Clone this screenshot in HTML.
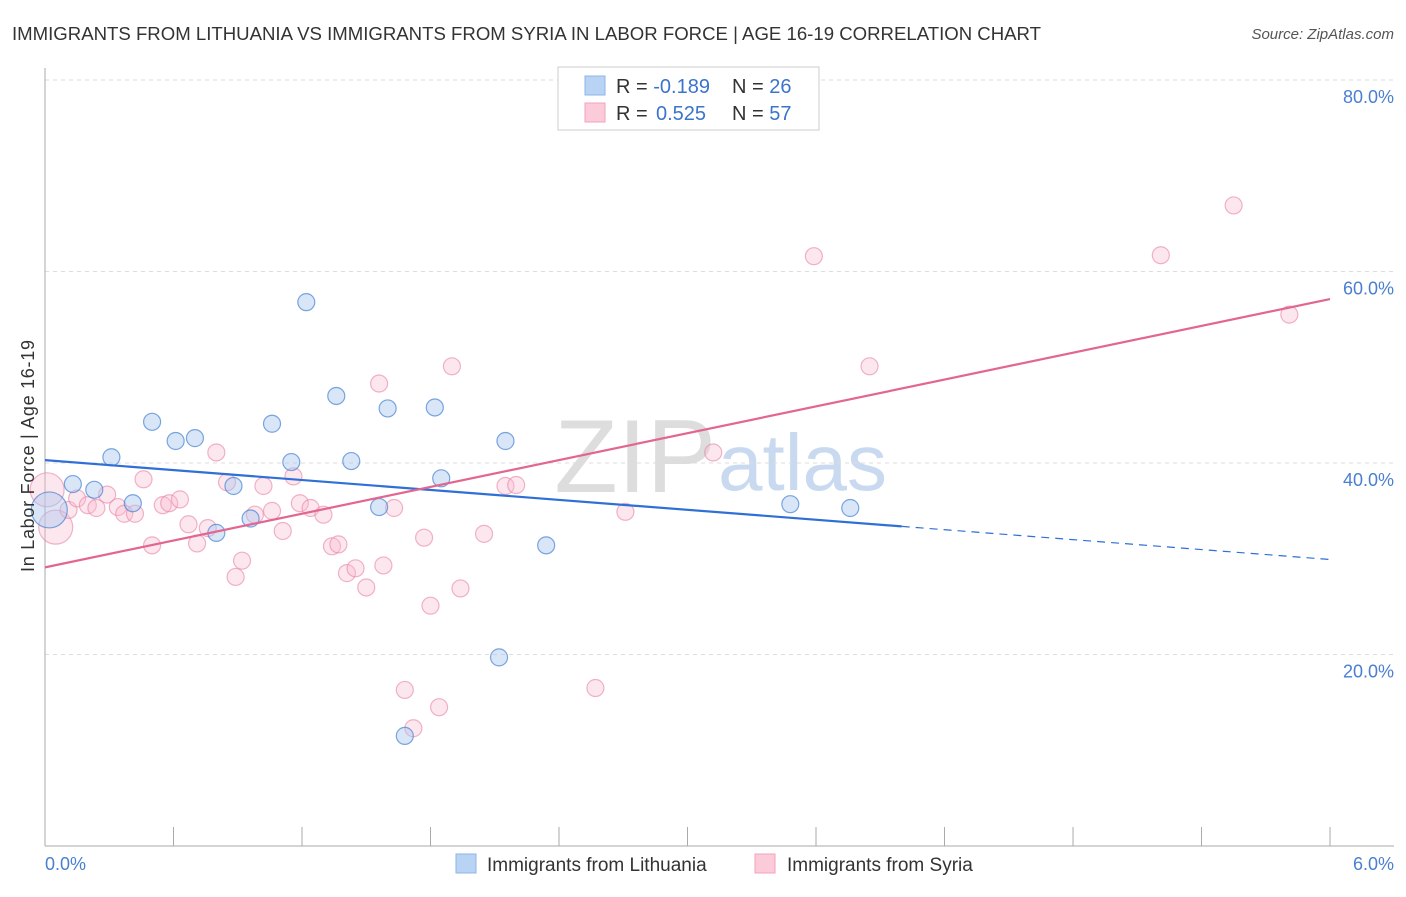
<!DOCTYPE html>
<html><head><meta charset="utf-8"><style>
body{margin:0;background:#fff;font-family:"Liberation Sans",sans-serif;}
svg text{font-family:"Liberation Sans",sans-serif;}
</style></head><body>
<svg id="chart" width="1406" height="892">
<text x="12" y="40" font-size="18" fill="#333" textLength="1029" lengthAdjust="spacingAndGlyphs">IMMIGRANTS FROM LITHUANIA VS IMMIGRANTS FROM SYRIA IN LABOR FORCE | AGE 16-19 CORRELATION CHART</text>
<text x="1394" y="39" font-size="15" fill="#555" font-style="italic" text-anchor="end">Source: ZipAtlas.com</text>
<text x="716" y="492" font-size="104" fill="#ddd" text-anchor="end" font-family="Liberation Serif">ZIP</text>
<text x="718" y="490" font-size="80" fill="#c9daf0">atlas</text>
<g id="grid"></g>
<g id="marks"></g>
<text transform="translate(34,456) rotate(-90)" font-size="18" fill="#333" text-anchor="middle" textLength="232">In Labor Force | Age 16-19</text>
<text x="45" y="870" font-size="18" fill="#4a7fd0">0.0%</text>
<text x="1394" y="870" font-size="18" fill="#4a7fd0" text-anchor="end">6.0%</text>
<g>
<rect x="558" y="67" width="261" height="63" fill="#fff" stroke="#ccc"/>
<rect x="585" y="76" width="20" height="19" fill="#b9d3f5" stroke="#8fb5e8"/>
<rect x="585" y="103" width="20" height="19" fill="#fbcbd9" stroke="#f2a3bb"/>
<text x="616" y="93" font-size="20" fill="#333">R = <tspan fill="#3b74cc">-0.189</tspan><tspan x="732">N = </tspan><tspan fill="#3b74cc">26</tspan></text>
<text x="616" y="120" font-size="20" fill="#333">R = <tspan x="656" fill="#3b74cc">0.525</tspan><tspan x="732">N = </tspan><tspan fill="#3b74cc">57</tspan></text>
</g>
<g>
<rect x="456" y="854" width="20" height="19" fill="#b9d3f5" stroke="#8fb5e8"/>
<text x="487" y="871" font-size="19" fill="#333">Immigrants from Lithuania</text>
<rect x="755" y="854" width="20" height="19" fill="#fbcbd9" stroke="#f2a3bb"/>
<text x="787" y="871" font-size="19" fill="#333">Immigrants from Syria</text>
</g>
</svg>
<script>
const yTicks=[20,40,60,80];
const xTicks=[0,0.6,1.2,1.8,2.4,3.0,3.6,4.2,4.8,5.4,6.0];
const blueX=[0.02,0.13,0.23,0.31,0.41,0.50,0.61,0.70,0.80,0.88,0.96,1.06,1.15,1.22,1.36,1.43,1.56,1.60,1.82,1.85,2.12,2.15,2.34,1.68,3.48,3.76];
const blueY=[35.1,37.8,37.2,40.6,35.8,44.3,42.3,42.6,32.7,37.6,34.2,44.1,40.1,56.8,47.0,40.2,35.4,45.7,45.8,38.4,19.7,42.3,31.4,11.5,35.7,35.3];
const pinkX=[0.01,0.05,0.11,0.15,0.20,0.24,0.29,0.34,0.37,0.42,0.46,0.50,0.55,0.58,0.63,0.67,0.71,0.76,0.80,0.85,0.89,0.92,0.98,1.02,1.06,1.11,1.16,1.19,1.24,1.30,1.34,1.37,1.41,1.45,1.50,1.56,1.58,1.63,1.68,1.72,1.77,1.80,1.84,1.90,1.94,2.05,2.15,2.20,2.57,2.71,2.82,3.12,3.59,3.85,5.21,5.55,5.81];
const pinkY=[37.2,33.3,35.1,36.3,35.6,35.3,36.7,35.4,34.7,34.7,38.3,31.4,35.6,35.8,36.2,33.6,31.6,33.2,41.1,38.0,28.1,29.8,34.6,37.6,35.0,32.9,38.6,35.8,35.3,34.6,31.3,31.5,28.5,29.0,27.0,48.3,29.3,35.3,16.3,12.3,32.2,25.1,14.5,50.1,26.9,32.6,37.6,37.7,16.5,34.9,76.3,41.1,61.6,50.1,61.7,66.9,55.5];
const blueTrend=[40.3,-1.73,4.0];
const pinkTrend=[29.1,4.67];
const X=v=>45+v*214.17, Y=v=>846-v*9.575;
const NS='http://www.w3.org/2000/svg';
const grid=document.getElementById('grid'), marks=document.getElementById('marks');
function mk(tag,attrs,parent){const e=document.createElementNS(NS,tag);for(const k in attrs)e.setAttribute(k,attrs[k]);parent.appendChild(e);return e;}
yTicks.forEach(t=>{
 const l=mk('line',{x1:45,x2:1394,y1:Y(t),y2:Y(t),stroke:'#ddd','stroke-dasharray':'4,4'},grid);
 
 
 const tx=mk('text',{x:1394,y:Y(t)+23,'font-size':18,fill:'#4a7fd0','text-anchor':'end'},grid);
 tx.textContent=t.toFixed(1)+'%';
 
 
});
const ya=mk('line',{x1:45,x2:45,y1:68,y2:846,stroke:'#aaa'},grid);


const xa=mk('line',{x1:45,x2:1394,y1:846,y2:846,stroke:'#aaa'},grid);


xTicks.forEach(t=>{
 const l=mk('line',{x1:X(t),x2:X(t),y1:827,y2:846,stroke:'#aaa'},grid);
 
 
});
function dot(x,y,r,fill,stroke,name){
 const c=mk('circle',{cx:X(x),cy:Y(y),r:r,fill:fill,stroke:stroke,'stroke-width':1.2},marks);
 
 
}
pinkX.forEach((x,i)=>dot(x,pinkY[i],i<2?17:8.5,'rgba(248,185,205,0.35)','rgba(232,130,165,0.6)','point-syria'));
blueX.forEach((x,i)=>dot(x,blueY[i],i<1?18:8.5,'rgba(170,200,240,0.45)','rgba(70,130,210,0.7)','point-lithuania'));
const b0=blueTrend[0],b1=blueTrend[1],be=blueTrend[2];
const bl=mk('line',{x1:X(0),y1:Y(b0),x2:X(be),y2:Y(b0+b1*be),stroke:'#2f6fd6','stroke-width':2.2},marks);


const bd=mk('line',{x1:X(be),y1:Y(b0+b1*be),x2:X(6),y2:Y(b0+b1*6),stroke:'#2f6fd6','stroke-width':1.2,'stroke-dasharray':'8,6'},marks);


const pl=mk('line',{x1:X(0),y1:Y(pinkTrend[0]),x2:X(6),y2:Y(pinkTrend[0]+pinkTrend[1]*6),stroke:'#e2668f','stroke-width':2.2},marks);


</script>
</body></html>
